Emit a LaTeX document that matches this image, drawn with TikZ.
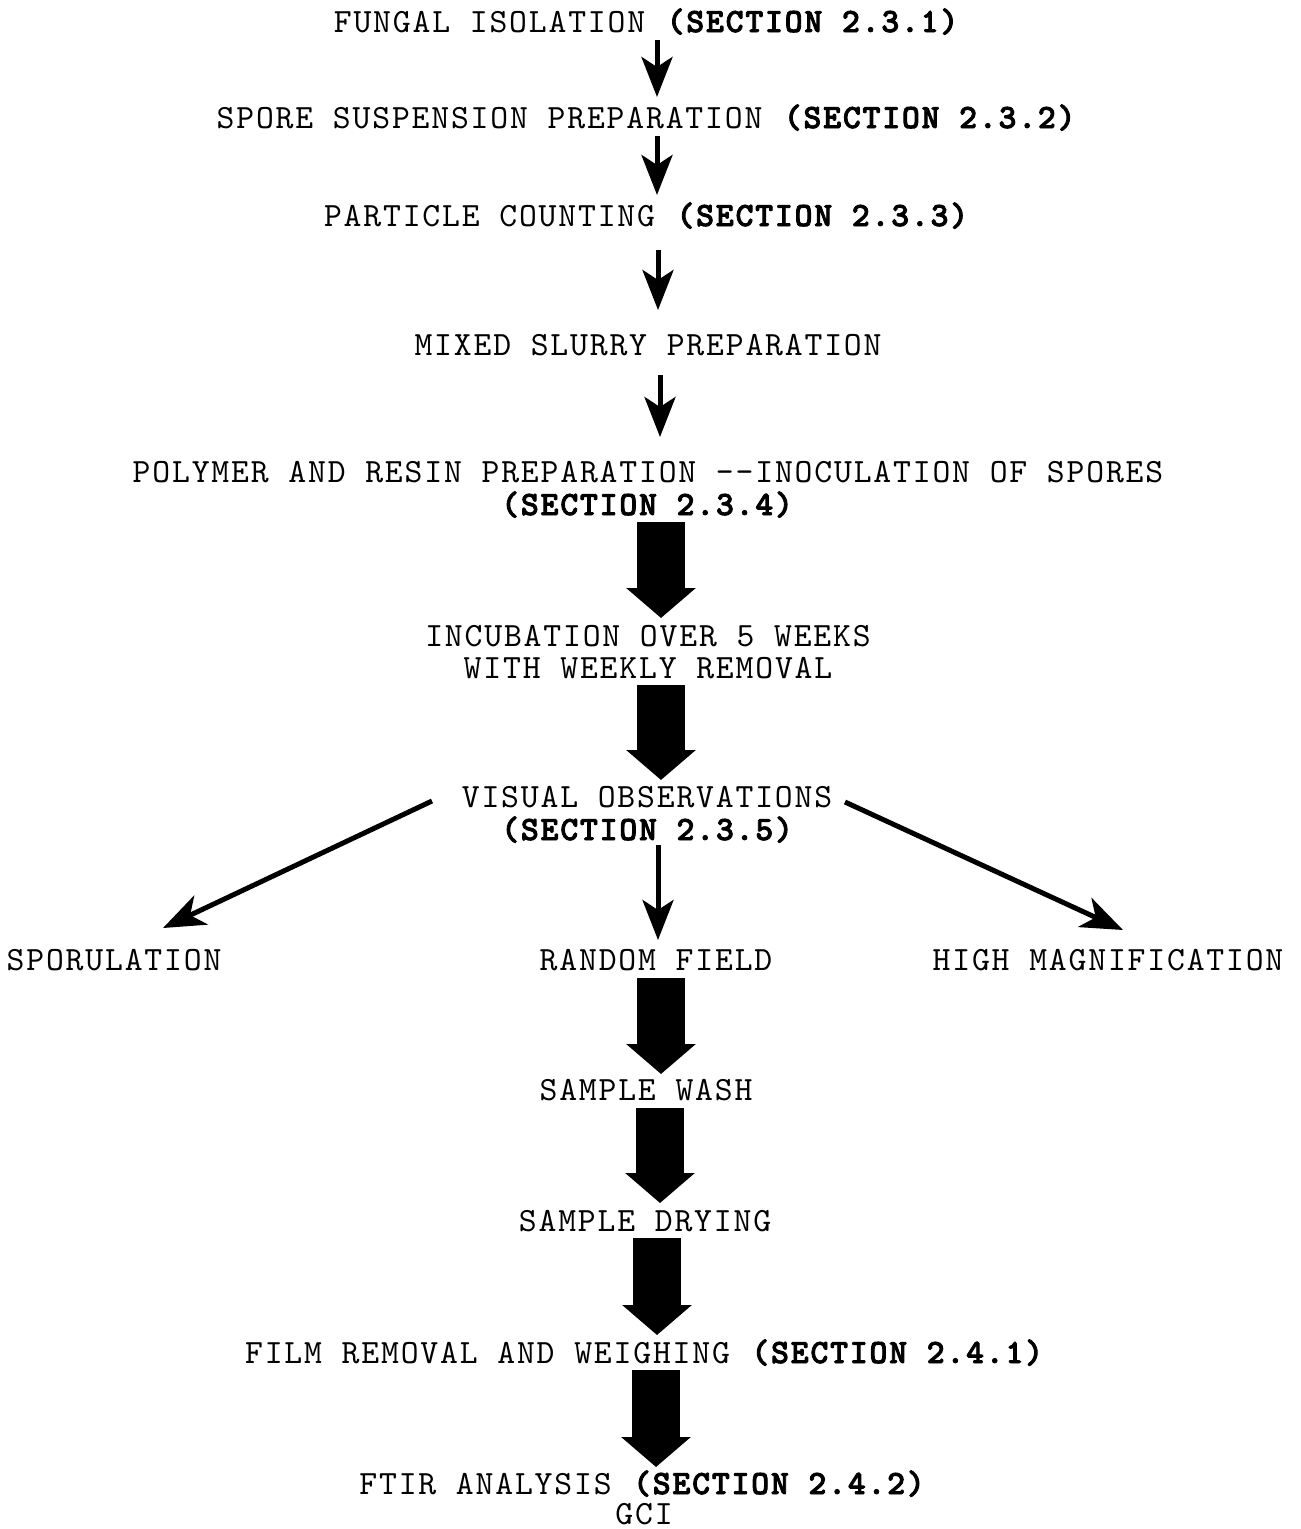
\documentclass[tikz,border=0pt]{standalone}
\usepackage{fontspec}
\setmainfont{lmmono10-regular.otf}[BoldFont=lmmonolt10-bold.otf, BoldFeatures={FakeBold=2.5}, LetterSpace=5.4]
\usetikzlibrary{arrows.meta}
\tikzset{
  lbl/.style={anchor=base, inner sep=0pt, font=\fontsize{34}{34}\selectfont},
  thinarrow/.style={line width=5pt, -{Stealth[length=40pt, width=31pt, inset=10pt]}},
  diagarrow/.style={line width=5pt, -{Stealth[length=42pt, width=32pt, inset=12pt]}},
  fatarrow/.style={line width=48pt, -{Triangle[length=30pt, width=68pt]}}
}
\begin{document}
\begin{tikzpicture}[x=1pt, y=-1pt]
\useasboundingbox (0,0) rectangle (1301,1529);
% text nodes
\node[lbl] (s1) at (647,32) {FUNGAL ISOLATION \textbf{(SECTION 2.3.1)}};
\node[lbl] (s2) at (647,128) {SPORE SUSPENSION PREPARATION \textbf{(SECTION 2.3.2)}};
\node[lbl] (s3) at (647,226) {PARTICLE COUNTING \textbf{(SECTION 2.3.3)}};
\node[lbl] (s4) at (648,355) {MIXED SLURRY PREPARATION};
\node[lbl] (s5a) at (648,482) {POLYMER AND RESIN PREPARATION -{}-INOCULATION OF SPORES};
\node[lbl] (s5b) at (648,515) {\textbf{(SECTION 2.3.4)}};
\node[lbl] (s6a) at (648,646) {INCUBATION OVER 5 WEEKS};
\node[lbl] (s6b) at (648,678) {WITH WEEKLY REMOVAL};
\node[lbl] (s7a) at (647,807) {VISUAL OBSERVATIONS};
\node[lbl] (s7b) at (648,840) {\textbf{(SECTION 2.3.5)}};
\node[lbl] (s8l) at (114,970) {SPORULATION};
\node[lbl] (s8m) at (656,970) {RANDOM FIELD};
\node[lbl] (s8r) at (1108,970) {HIGH MAGNIFICATION};
\node[lbl] (s9) at (646,1100) {SAMPLE WASH};
\node[lbl] (s10) at (645,1231) {SAMPLE DRYING};
\node[lbl] (s11) at (645,1363) {FILM REMOVAL AND WEIGHING \textbf{(SECTION 2.4.1)}};
\node[lbl] (s12a) at (643,1494) {FTIR ANALYSIS \textbf{(SECTION 2.4.2)}};
\node[lbl] (s12b) at (644,1524) {GCI};
% connector end points
\coordinate (t1a) at (657,40);  \coordinate (t1b) at (657,97);
\coordinate (t2a) at (657,136); \coordinate (t2b) at (657,195);
\coordinate (t3a) at (658,250); \coordinate (t3b) at (658,310);
\coordinate (t4a) at (660,375); \coordinate (t4b) at (660,437);
\coordinate (t5a) at (658,845); \coordinate (t5b) at (658,940);
\coordinate (f1a) at (661,522); \coordinate (f1b) at (661,618);
\coordinate (f2a) at (661,685); \coordinate (f2b) at (661,780);
\coordinate (f3a) at (661,978); \coordinate (f3b) at (661,1074);
\coordinate (f4a) at (660,1108); \coordinate (f4b) at (660,1203);
\coordinate (f5a) at (657,1238); \coordinate (f5b) at (657,1335);
\coordinate (f6a) at (656,1370); \coordinate (f6b) at (656,1467);
\coordinate (dla) at (432,801); \coordinate (dlb) at (163,928);
\coordinate (dra) at (845,802); \coordinate (drb) at (1123,930);
% connectors
\draw[thinarrow] (t1a) -- (t1b);
\draw[thinarrow] (t2a) -- (t2b);
\draw[thinarrow] (t3a) -- (t3b);
\draw[thinarrow] (t4a) -- (t4b);
\draw[thinarrow] (t5a) -- (t5b);
\draw[fatarrow] (f1a) -- (f1b);
\draw[fatarrow] (f2a) -- (f2b);
\draw[fatarrow] (f3a) -- (f3b);
\draw[fatarrow] (f4a) -- (f4b);
\draw[fatarrow] (f5a) -- (f5b);
\draw[fatarrow] (f6a) -- (f6b);
\draw[diagarrow] (dla) -- (dlb);
\draw[diagarrow] (dra) -- (drb);
\end{tikzpicture}
\end{document}
